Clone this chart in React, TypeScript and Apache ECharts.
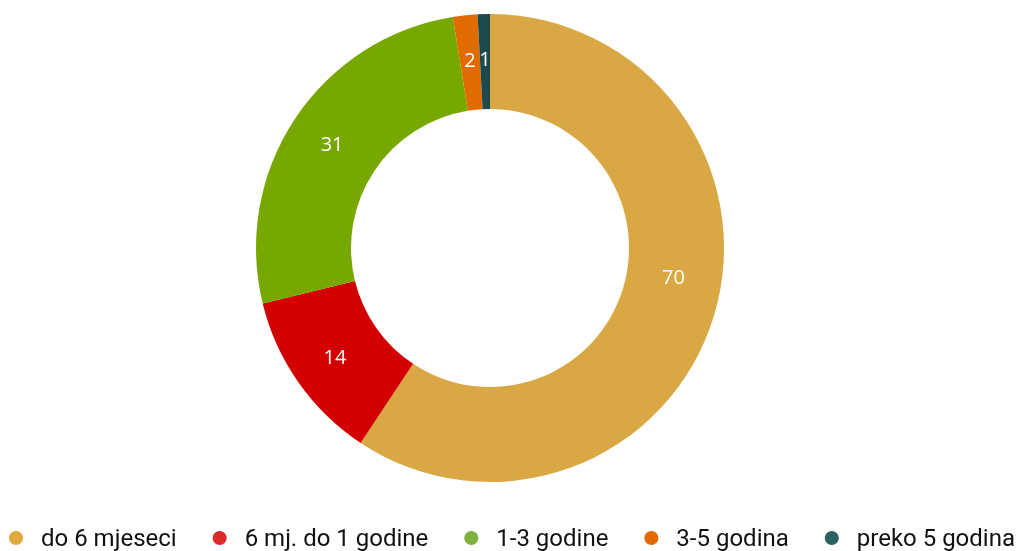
import React, { useEffect, useRef } from "react";
import * as echarts from "echarts";

const categories = ["do 6 mjeseci", "6 mj. do 1 godine", "1-3 godine", "3-5 godina", "preko 5 godina"];
const values = [70, 14, 31, 2, 1];
const sliceColors = ["#D9A845", "#D30000", "#76A800", "#E06C00", "#1D4A4E"];
const legendColors = ["#E2A93C", "#DC2A2A", "#7DB33C", "#E06A00", "#2B625E"];

export default function App() {
  const ref = useRef<HTMLDivElement>(null);
  useEffect(() => {
    if (!ref.current) return;
    const chart = echarts.init(ref.current, undefined, { renderer: "svg" });
    chart.setOption({
      animation: false,
      legend: {
        left: 9,
        top: 526,
        icon: "circle",
        itemWidth: 14,
        itemHeight: 14,
        itemGap: 36,
        padding: 0,
        textStyle: {
          fontFamily: "Roboto",
          fontSize: 24,
          color: "#111",
          padding: [0, 0, 0, 13],
        },
        data: categories.map((c, i) => ({ name: c, itemStyle: { color: legendColors[i] } })),
      },
      series: [
        {
          type: "pie",
          center: [490, 248],
          radius: [139, 234],
          startAngle: 90,
          clockwise: true,
          avoidLabelOverlap: false,
          label: {
            show: true,
            position: "inside",
            color: "#fff",
            fontFamily: "Open Sans",
            fontSize: 20,
            formatter: "{c}",
          },
          labelLine: { show: false },
          data: categories.map((c, i) => ({
            name: c,
            value: values[i],
            itemStyle: { color: sliceColors[i] },
            label: i === 0 ? { offset: [2, -26] } : undefined,
          })),
        },
      ],
    });
    return () => chart.dispose();
  }, []);
  return <div ref={ref} style={{ position: "fixed", left: 0, top: 0, width: 1019, height: 551 }} />;
}
